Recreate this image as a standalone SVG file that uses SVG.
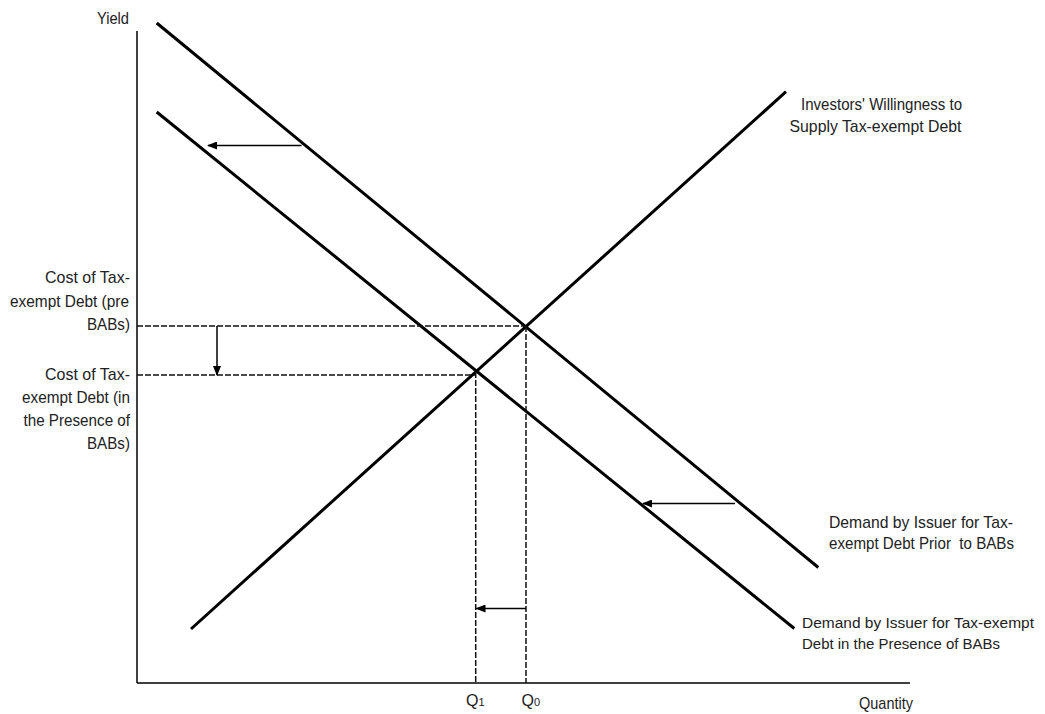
<svg xmlns="http://www.w3.org/2000/svg" width="1045" height="714" viewBox="0 0 1045 714">
<defs>
<marker id="ah" markerWidth="10" markerHeight="8" refX="9" refY="4" orient="auto" markerUnits="userSpaceOnUse">
<path d="M0,0 L10,4 L0,8 Z" fill="#000"/>
</marker>
<style>
text{font-family:"Liberation Sans",Arial,sans-serif;font-size:17px;fill:#222}
.small{font-size:15.5px}
.axis{stroke:#000;stroke-width:1.5;fill:none}
.curve{stroke:#000;stroke-width:3;fill:none}
.dash{stroke:#111;stroke-width:1.5;stroke-dasharray:6 2;fill:none}
.arr{stroke:#000;stroke-width:1.5;fill:none;marker-end:url(#ah)}
</style>
</defs>
<rect width="1045" height="714" fill="#fff"/>
<g id="axes">
<line class="axis" x1="137" y1="31" x2="137" y2="683"/>
<line class="axis" x1="137" y1="683" x2="910" y2="683"/>
</g>
<g id="curves">
<line id="demand-prior" class="curve" x1="156.7" y1="23" x2="818.3" y2="567.5"/>
<line id="demand-presence" class="curve" x1="156.7" y1="112" x2="794.3" y2="628.5"/>
<line id="supply" class="curve" x1="191" y1="629" x2="786" y2="91.7"/>
</g>
<g id="connectors">
<line class="dash" x1="137" y1="326" x2="526" y2="326"/>
<line class="dash" x1="137" y1="375" x2="476" y2="375"/>
<line class="dash" x1="526" y1="326" x2="526" y2="683"/>
<line class="dash" x1="475.7" y1="372" x2="475.7" y2="683"/>
<line class="arr" x1="301.5" y1="145.5" x2="208" y2="145.5"/>
<line class="arr" x1="217" y1="326" x2="217" y2="375"/>
<line class="arr" x1="735" y1="503.5" x2="643" y2="503.5"/>
<line class="arr" x1="526" y1="608.5" x2="476.5" y2="608.5"/>
</g>
<g id="label-yield"><text x="97" y="24" textLength="32" lengthAdjust="spacingAndGlyphs">Yield</text></g>
<g id="label-quantity"><text x="859" y="709" textLength="54" lengthAdjust="spacingAndGlyphs">Quantity</text></g>
<g id="label-cost-pre">
<text x="45" y="283" textLength="85" lengthAdjust="spacingAndGlyphs">Cost of Tax-</text>
<text x="10" y="306.5" textLength="119" lengthAdjust="spacingAndGlyphs">exempt Debt (pre</text>
<text x="87" y="330" textLength="43" lengthAdjust="spacingAndGlyphs">BABs)</text>
</g>
<g id="label-cost-presence">
<text x="45" y="380" textLength="85" lengthAdjust="spacingAndGlyphs">Cost of Tax-</text>
<text x="22" y="403" textLength="108" lengthAdjust="spacingAndGlyphs">exempt Debt (in</text>
<text x="23.5" y="426" textLength="106.5" lengthAdjust="spacingAndGlyphs">the Presence of</text>
<text x="87" y="449" textLength="43" lengthAdjust="spacingAndGlyphs">BABs)</text>
</g>
<g id="label-supply">
<text x="801" y="110" textLength="161" lengthAdjust="spacingAndGlyphs">Investors' Willingness to</text>
<text x="789.5" y="132" textLength="172" lengthAdjust="spacingAndGlyphs">Supply Tax-exempt Debt</text>
</g>
<g id="label-demand-prior">
<text x="829" y="527.5" textLength="184" lengthAdjust="spacingAndGlyphs">Demand by Issuer for Tax-</text>
<text x="829" y="548.5" textLength="185" lengthAdjust="spacingAndGlyphs" xml:space="preserve">exempt Debt Prior  to BABs</text>
</g>
<g id="label-demand-presence">
<text class="small" x="802" y="627.5" textLength="232" lengthAdjust="spacingAndGlyphs">Demand by Issuer for Tax-exempt</text>
<text class="small" x="802" y="648.5" textLength="198" lengthAdjust="spacingAndGlyphs">Debt in the Presence of BABs</text>
</g>
<g id="label-q1"><text x="466" y="706" style="font-size:16px">Q<tspan style="font-size:11px">1</tspan></text></g>
<g id="label-q0"><text x="521.5" y="706" style="font-size:16px">Q<tspan style="font-size:11px">0</tspan></text></g>
</svg>
